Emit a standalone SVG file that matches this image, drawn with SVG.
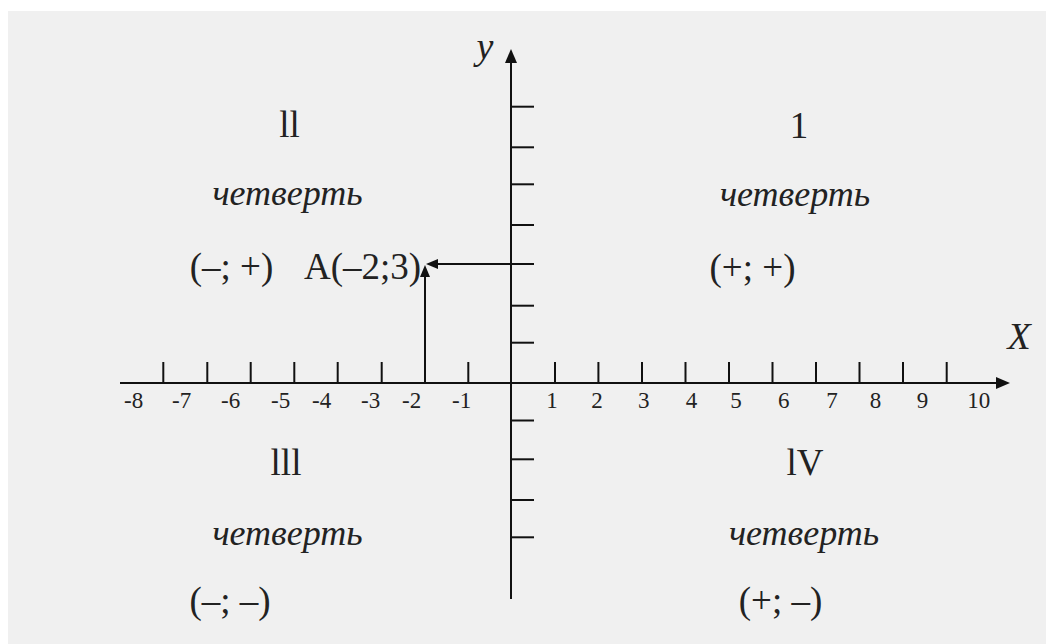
<svg xmlns="http://www.w3.org/2000/svg" width="1046" height="644" viewBox="0 0 1046 644">
  <style>
    .ax { stroke: #111; stroke-width: 2; fill: none; }
    .tk { stroke: #111; stroke-width: 2; }
    .num { font-family: "Liberation Serif", "Times New Roman", serif; font-size: 23px; fill: #222; }
    .rom { font-family: "Liberation Serif", "Times New Roman", serif; font-size: 37px; fill: #222; text-anchor: middle; }
    .q { font-family: "Liberation Serif", "Times New Roman", serif; font-style: italic; font-size: 36px; fill: #222; text-anchor: middle; }
    .sg { font-family: "Liberation Serif", "Times New Roman", serif; font-size: 37px; fill: #222; text-anchor: middle; }
    .pt { font-family: "Liberation Serif", "Times New Roman", serif; font-size: 37px; fill: #222; text-anchor: start; }
    .axl { font-family: "Liberation Serif", "Times New Roman", serif; font-style: italic; font-size: 38px; fill: #222; text-anchor: middle; }
  </style>
  <defs>
    <marker id="big" viewBox="0 0 14 12" refX="0" refY="6" markerWidth="14" markerHeight="12" orient="auto" markerUnits="userSpaceOnUse">
      <path d="M0,0 L14,6 L0,12 Z" fill="#111"/>
    </marker>
    <marker id="small" viewBox="0 0 12 10" refX="0" refY="5" markerWidth="12" markerHeight="10" orient="auto" markerUnits="userSpaceOnUse">
      <path d="M0,0 L12,5 L0,10 Z" fill="#111"/>
    </marker>
  </defs>
  <rect x="8" y="11" width="1038" height="633" fill="#f0f0f0"/>

  <g id="connectors">
    <line id="x-axis" class="ax" x1="120" y1="383" x2="996" y2="383" marker-end="url(#big)"/>
    <line id="y-axis" class="ax" x1="511" y1="599" x2="511" y2="63" marker-end="url(#big)"/>
    <line class="ax" x1="534" y1="264" x2="438" y2="264" marker-end="url(#small)"/>
    <line class="ax" x1="425" y1="383" x2="425" y2="277" marker-end="url(#small)"/>
    <g id="x-ticks" class="tk">
      <line x1="163.3" y1="362" x2="163.3" y2="383"/>
      <line x1="207.3" y1="362" x2="207.3" y2="383"/>
      <line x1="250.7" y1="362" x2="250.7" y2="383"/>
      <line x1="294.3" y1="362" x2="294.3" y2="383"/>
      <line x1="337.7" y1="362" x2="337.7" y2="383"/>
      <line x1="381.7" y1="362" x2="381.7" y2="383"/>
      <line x1="425" y1="362" x2="425" y2="383"/>
      <line x1="468.3" y1="362" x2="468.3" y2="383"/>
      <line x1="555" y1="362" x2="555" y2="383"/>
      <line x1="598.4" y1="362" x2="598.4" y2="383"/>
      <line x1="642" y1="362" x2="642" y2="383"/>
      <line x1="685.5" y1="362" x2="685.5" y2="383"/>
      <line x1="729" y1="362" x2="729" y2="383"/>
      <line x1="772.5" y1="362" x2="772.5" y2="383"/>
      <line x1="816" y1="362" x2="816" y2="383"/>
      <line x1="859.5" y1="362" x2="859.5" y2="383"/>
      <line x1="903" y1="362" x2="903" y2="383"/>
      <line x1="946.7" y1="362" x2="946.7" y2="383"/>
    </g>
    <g id="y-ticks" class="tk">
      <line x1="511" y1="106.7" x2="534" y2="106.7"/>
      <line x1="511" y1="147.3" x2="534" y2="147.3"/>
      <line x1="511" y1="184.3" x2="534" y2="184.3"/>
      <line x1="511" y1="225" x2="534" y2="225"/>
      <line x1="511" y1="305.7" x2="534" y2="305.7"/>
      <line x1="511" y1="342.7" x2="534" y2="342.7"/>
      <line x1="511" y1="420.5" x2="534" y2="420.5"/>
      <line x1="511" y1="459.3" x2="534" y2="459.3"/>
      <line x1="511" y1="500" x2="534" y2="500"/>
      <line x1="511" y1="537.3" x2="534" y2="537.3"/>
    </g>
  </g>

  <g id="x-labels" class="num">
    <text x="124" y="408">-8</text>
    <text x="172" y="408">-7</text>
    <text x="221" y="408">-6</text>
    <text x="271" y="408">-5</text>
    <text x="312" y="408">-4</text>
    <text x="361" y="408">-3</text>
    <text x="402" y="408">-2</text>
    <text x="452" y="408">-1</text>
    <g text-anchor="middle">
      <text x="552" y="408">1</text>
      <text x="597" y="408">2</text>
      <text x="643.7" y="408">3</text>
      <text x="691.5" y="408">4</text>
      <text x="736" y="408">5</text>
      <text x="783.7" y="408">6</text>
      <text x="832" y="408">7</text>
      <text x="875.5" y="408">8</text>
      <text x="922.5" y="408">9</text>
      <text x="978.8" y="408">10</text>
    </g>
  </g>

  <g id="axis-names">
    <text class="axl" x="1019" y="349">X</text>
    <text class="axl" x="485" y="59">y</text>
  </g>

  <g id="quadrant-1">
    <text class="rom" x="799" y="138">1</text>
    <text class="q" x="795" y="206">четверть</text>
    <text class="sg" x="752.5" y="280">(+; +)</text>
  </g>
  <g id="quadrant-2">
    <text class="rom" x="289.5" y="137">ll</text>
    <text class="q" x="287.5" y="205">четверть</text>
    <text class="sg" x="231.5" y="279">(–; +)</text>
  </g>
  <g id="point-a">
    <text class="pt" x="304" y="279">A(–2;3)</text>
  </g>
  <g id="quadrant-3">
    <text class="rom" x="286" y="475">lll</text>
    <text class="q" x="287.5" y="545">четверть</text>
    <text class="sg" x="230" y="613">(–; –)</text>
  </g>
  <g id="quadrant-4">
    <text class="rom" x="805" y="475">lV</text>
    <text class="q" x="804" y="545">четверть</text>
    <text class="sg" x="780.5" y="613">(+; –)</text>
  </g>
</svg>
